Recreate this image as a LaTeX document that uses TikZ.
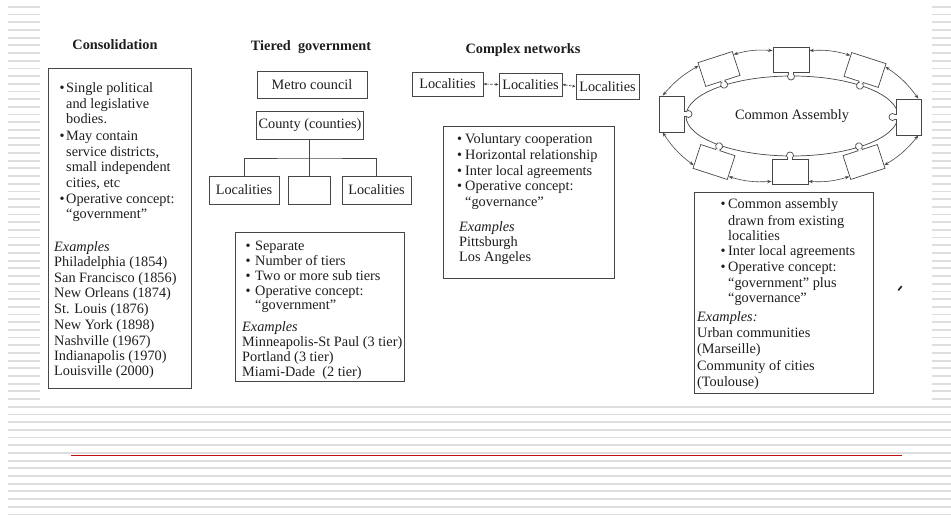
\documentclass[tikz,border=0pt]{standalone}
\usepackage{fontspec}
\setmainfont{Liberation Serif}
\usetikzlibrary{arrows.meta,shapes.geometric}
\definecolor{stripegray}{RGB}{222,222,222}
\definecolor{redline}{RGB}{192,16,16}
\definecolor{ink}{RGB}{30,30,30}
\definecolor{edge}{RGB}{70,70,70}
\newcommand{\bulx}[1]{\llap{\textbullet\hspace{#1pt}}}
\tikzset{
  txt/.style={anchor=base west, inner sep=0pt, text=ink, font=\fontsize{14.3}{16}\selectfont},
  ttl/.style={anchor=base, inner sep=0pt, text=ink, font=\fontsize{14.3}{16}\selectfont\bfseries},
  panel/.style={draw=edge, line width=0.8pt, inner sep=0pt},
  lbox/.style={panel, text=ink, font=\fontsize{14.3}{16}\selectfont},
  piece/.style={draw=edge, fill=white, line width=0.7pt, minimum width=36pt, minimum height=25pt, inner sep=0pt},
  arr/.style={draw=edge, line width=0.6pt, {Stealth[length=4.5pt,width=3.2pt]}-{Stealth[length=4.5pt,width=3.2pt]}},
  link/.style={draw=edge, line width=0.7pt, dash pattern=on 2.5pt off 1.5pt, {Latex[length=3pt,width=3pt]}-{Latex[length=3pt,width=3pt]}},
  conn/.style={draw=edge, line width=0.8pt},
  tabknob/.pic={
    \draw[draw=edge, fill=white, line width=0.7pt] (0,16.5) circle[radius=3.5];
    \fill[white] (-1.85,12) rectangle (1.85,13.65);
    \draw[draw=edge, line width=0.7pt] (-2.2,12.5) -- (-2.2,13.8) (2.2,12.5) -- (2.2,13.8);
  }
}
\begin{document}
\begin{tikzpicture}[x=1pt,y=-1pt]
\useasboundingbox (0,0) rectangle (951,518);
\fill[white] (0,0) rectangle (951,518);
\foreach \k in {-1,...,66} \draw[stripegray, line width=1.8pt] (8,{6.9+7.69*\k}) -- (951,{6.9+7.69*\k});
\fill[white] (40,3) rectangle (932,405);
\draw[redline, line width=1.5pt] (71,455.5) -- (902,455.5);

% titles
\node[ttl] (tcon) at (115,50) {Consolidation};
\node[ttl] (ttier) at (311,50.7) {Tiered\ \ government};
\node[ttl] (tcomp) at (523,53.3) {Complex networks};

% consolidation
\node[panel, minimum width=143pt, minimum height=320pt] (conbox) at (119.5,228) {};
\node[txt] (c1) at (66,93) {\bulx{1.5}Single political};
\node[txt] (c2) at (66,109) {and legislative};
\node[txt] (c3) at (66,124) {bodies.};
\node[txt] (c4) at (66,141) {\bulx{1.5}May contain};
\node[txt] (c5) at (66,157) {service districts,};
\node[txt] (c6) at (66,172) {small independent};
\node[txt] (c7) at (66,188) {cities, etc};
\node[txt] (c8) at (66,204) {\bulx{1.5}Operative concept:};
\node[txt] (c9) at (66,219) {``government''};
\node[txt] (c10) at (54,252) {\textit{Examples}};
\node[txt] (c11) at (54,267) {Philadelphia (1854)};
\node[txt] (c12) at (54,283) {San Francisco (1856)};
\node[txt] (c13) at (54,298) {New Orleans (1874)};
\node[txt] (c14) at (54,314) {St. Louis (1876)};
\node[txt] (c15) at (54,330) {New York (1898)};
\node[txt] (c16) at (54,346) {Nashville (1967)};
\node[txt] (c17) at (54,361) {Indianapolis (1970)};
\node[txt] (c18) at (54,376) {Louisville (2000)};

% tiered government
\node[lbox, minimum width=110pt, minimum height=27pt] (metro) at (312,84.5) {Metro council};
\node[lbox, minimum width=107pt, minimum height=28pt] (county) at (310,125) {County (counties)};
\node[lbox, minimum width=70pt, minimum height=28pt] (locl) at (244,190) {Localities};
\node[lbox, minimum width=42pt, minimum height=28pt] (locm) at (309,190) {};
\node[lbox, minimum width=69pt, minimum height=28pt] (locr) at (376.5,190) {Localities};
\coordinate (bar) at (309,158);
\draw[conn] (locm.north |- county.south) -- (locm.north);
\draw[conn] (locl.north) |- (bar) -| (locr.north);
\node[panel, minimum width=169pt, minimum height=149pt] (tierbox) at (319.5,306.5) {};
\node[txt] (t1) at (255,251) {\bulx{4.5}Separate};
\node[txt] (t2) at (255,266) {\bulx{4.5}Number of tiers};
\node[txt] (t3) at (255,281) {\bulx{4.5}Two or more sub tiers};
\node[txt] (t4) at (255,296) {\bulx{4.5}Operative concept:};
\node[txt] (t5) at (255,310) {``government''};
\node[txt] (t6) at (242,332) {\textit{Examples}};
\node[txt] (t7) at (242,347) {Minneapolis-St Paul (3 tier)};
\node[txt] (t8) at (242,362) {Portland (3 tier)};
\node[txt] (t9) at (242,377) {Miami-Dade\ \ (2 tier)};

% complex networks
\node[lbox, minimum width=71pt, minimum height=24pt] (cn1) at (447.5,84) {Localities};
\node[lbox, minimum width=63pt, minimum height=23pt] (cn2) at (530.5,84.5) {Localities};
\node[lbox, minimum width=63pt, minimum height=25pt] (cn3) at (607.5,86.5) {Localities};
\draw[link] (cn1.east) -- (cn2.west);
\draw[link] (cn2.east) -- (cn3.west);
\node[panel, minimum width=171pt, minimum height=152pt] (compbox) at (528.5,202) {};
\node[txt] (n1) at (465,144) {\bulx{3}Voluntary cooperation};
\node[txt] (n2) at (465,160) {\bulx{3}Horizontal relationship};
\node[txt] (n3) at (465,175.5) {\bulx{3}Inter local agreements};
\node[txt] (n4) at (465,191) {\bulx{3}Operative concept:};
\node[txt] (n5) at (465,207) {``governance''};
\node[txt] (n6) at (459,232) {\textit{Examples}};
\node[txt] (n7) at (459,247) {Pittsburgh};
\node[txt] (n8) at (459,262) {Los Angeles};

% common assembly
\node[ellipse, draw=edge, line width=0.7pt, minimum width=212pt, minimum height=80pt, inner sep=0pt, text=ink, font=\fontsize{14.3}{16}\selectfont] (ring) at (792,116) {Common Assembly};
\foreach \n/\px/\py/\r in {pT/791/60/0, pTR/865/70/-18, pR/909/117/-90, pBR/864/162/-162, pB/790/172/180, pBL/714/162/162, pL/672/114/90, pTL/719/69/18} {
  \node[piece, rotate=\r] (\n) at (\px,\py) {};
  \pic[rotate=\r] at (\n.center) {tabknob};
}
\foreach \a/\b in {pT/pTR, pTR/pR, pR/pBR, pBR/pB, pB/pBL, pBL/pL, pL/pTL, pTL/pT}
  \draw[arr] (\a.27) to[bend left=10] (\b.153);

\node[panel, minimum width=179pt, minimum height=201pt] (commbox) at (783.5,292.5) {};
\node[txt] (a1) at (728,209) {\bulx{2.5}Common assembly};
\node[txt] (a2) at (728,226) {drawn from existing};
\node[txt] (a3) at (728,241) {localities};
\node[txt] (a4) at (728,256) {\bulx{2.5}Inter local agreements};
\node[txt] (a5) at (728,272) {\bulx{2.5}Operative concept:};
\node[txt] (a6) at (728,288) {``government'' plus};
\node[txt] (a7) at (728,303) {``governance''};
\node[txt] (a8) at (697,322) {\textit{Examples:}};
\node[txt] (a9) at (697,338) {Urban communities};
\node[txt] (a10) at (697,354) {(Marseille)};
\node[txt] (a11) at (697,371) {Community of cities};
\node[txt] (a12) at (697,387) {(Toulouse)};

\draw[ink, line width=1.6pt, line cap=round] (898.5,290) -- (901.5,286.5);
\end{tikzpicture}
\end{document}
